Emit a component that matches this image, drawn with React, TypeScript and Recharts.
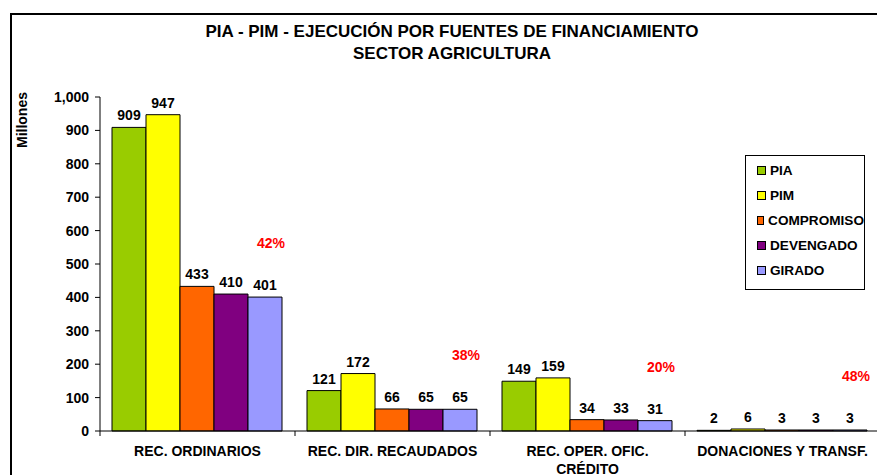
import { BarChart, Bar, XAxis, YAxis, LabelList } from "recharts";

const categories = [
  "REC. ORDINARIOS",
  "REC. DIR. RECAUDADOS",
  "REC. OPER. OFIC. CRÉDITO",
  "DONACIONES Y TRANSF.",
];
const pia = [909, 121, 149, 2];
const pim = [947, 172, 159, 6];
const compromiso = [433, 66, 34, 3];
const devengado = [410, 65, 33, 3];
const girado = [401, 65, 31, 3];
const avance = ["42%", "38%", "20%", "48%"];
const yTicks = [0, 100, 200, 300, 400, 500, 600, 700, 800, 900, 1000];

const FONT = "'Liberation Sans', Arial, sans-serif";

const SERIES = [
  { key: "pia", name: "PIA", color: "#99CC00" },
  { key: "pim", name: "PIM", color: "#FFFF00" },
  { key: "compromiso", name: "COMPROMISO", color: "#FF6600" },
  { key: "devengado", name: "DEVENGADO", color: "#800080" },
  { key: "girado", name: "GIRADO", color: "#9999FF" },
];

const data = categories.map((cat, i) => ({
  cat,
  pia: pia[i],
  pim: pim[i],
  compromiso: compromiso[i],
  devengado: devengado[i],
  girado: girado[i],
  avance: avance[i],
}));

function wrapWords(text: string, maxChars: number) {
  const lines: string[] = [];
  let cur = "";
  for (const w of text.split(" ")) {
    const next = cur ? cur + " " + w : w;
    if (next.length > maxChars && cur) {
      lines.push(cur);
      cur = w;
    } else cur = next;
  }
  if (cur) lines.push(cur);
  return lines;
}

function CategoryTick(props: any) {
  const { x, y, payload, index, visibleTicksCount } = props;
  const half = payload.offset ?? 0;
  const lines = wrapWords(payload.value, 20);
  const isLast = index === (visibleTicksCount ?? 4) - 1;
  return (
    <g>
      <line x1={x - half} x2={x - half} y1={y - 8} y2={y - 3} stroke="#000" />
      {isLast && <line x1={x + half} x2={x + half} y1={y - 8} y2={y - 3} stroke="#000" />}
      {lines.map((l, i) => (
        <text
          key={i}
          x={x}
          y={y + 17 + i * 18}
          textAnchor="middle"
          fontFamily={FONT}
          fontWeight="bold"
          fontSize={14}
          fill="#000"
        >
          {l}
        </text>
      ))}
    </g>
  );
}

function PctLabel(props: any) {
  const { x, y, width, value } = props;
  return (
    <text
      x={x + width / 2 + 6}
      y={y - 49}
      textAnchor="middle"
      fontFamily={FONT}
      fontWeight="bold"
      fontSize={14}
      fill="#FF0000"
    >
      {value}
    </text>
  );
}

function LegendBox() {
  return (
    <div
      style={{
        position: "absolute",
        left: 745,
        top: 155,
        width: 120,
        height: 135,
        border: "1px solid #000",
        background: "#fff",
        padding: "2px 0 0 11px",
        boxSizing: "border-box",
        fontFamily: FONT,
        fontWeight: "bold",
        fontSize: 13.6,
      }}
    >
      {SERIES.map((s) => (
        <div key={s.key} style={{ display: "flex", alignItems: "center", height: 25 }}>
          <span
            style={{
              display: "inline-block",
              width: 7,
              height: 7,
              background: s.color,
              border: "1px solid #000",
              marginRight: 4,
            }}
          />
          {s.name}
        </div>
      ))}
    </div>
  );
}

export default function App() {
  return (
    <div
      style={{
        position: "absolute",
        left: 0,
        top: 0,
        width: 877,
        height: 475,
        overflow: "hidden",
        background: "#fff",
      }}
    >
      <div
        style={{
          position: "absolute",
          left: 10,
          top: 13,
          width: 900,
          height: 500,
          border: "2px solid #000",
        }}
      />
      <div
        style={{
          position: "absolute",
          left: 0,
          top: 21,
          width: 904,
          textAlign: "center",
          fontFamily: FONT,
          fontWeight: "bold",
          fontSize: 17,
          lineHeight: "22px",
        }}
      >
        PIA - PIM - EJECUCIÓN POR FUENTES DE FINANCIAMIENTO
        <br />
        SECTOR AGRICULTURA
      </div>
      <div
        style={{
          position: "absolute",
          left: 22,
          top: 120,
          transform: "translate(-50%, -50%) rotate(-90deg)",
          fontFamily: FONT,
          fontWeight: "bold",
          fontSize: 14,
          whiteSpace: "nowrap",
        }}
      >
        Millones
      </div>
      <div style={{ position: "absolute", left: 0, top: 0 }}>
        <BarChart
          width={900}
          height={500}
          data={data}
          margin={{ top: 97, right: 20, bottom: 0, left: 0 }}
          barCategoryGap={12}
          barGap={0}
        >
          <XAxis
            dataKey="cat"
            height={69}
            axisLine={{ stroke: "#000" }}
            tickLine={false}
            tick={<CategoryTick />}
            interval={0}
          />
          <YAxis
            width={100}
            domain={[0, 1000]}
            ticks={yTicks}
            interval={0}
            axisLine={{ stroke: "#000" }}
            tickLine={{ stroke: "#000" }}
            tickSize={5}
            tickMargin={6}
            tickFormatter={(v: number) => v.toLocaleString("en-US")}
            tick={{ fontFamily: FONT, fontWeight: "bold", fontSize: 14, fill: "#000" }}
          />
          {SERIES.map((s) => (
            <Bar
              key={s.key}
              dataKey={s.key}
              name={s.name}
              fill={s.color}
              stroke="#000"
              strokeWidth={1}
              isAnimationActive={false}
            >
              <LabelList
                dataKey={s.key}
                position="top"
                offset={7}
                style={{ fontFamily: FONT, fontWeight: "bold", fontSize: 14, fill: "#000" }}
              />
              {s.key === "girado" && <LabelList dataKey="avance" content={<PctLabel />} />}
            </Bar>
          ))}
        </BarChart>
      </div>
      <LegendBox />
    </div>
  );
}
